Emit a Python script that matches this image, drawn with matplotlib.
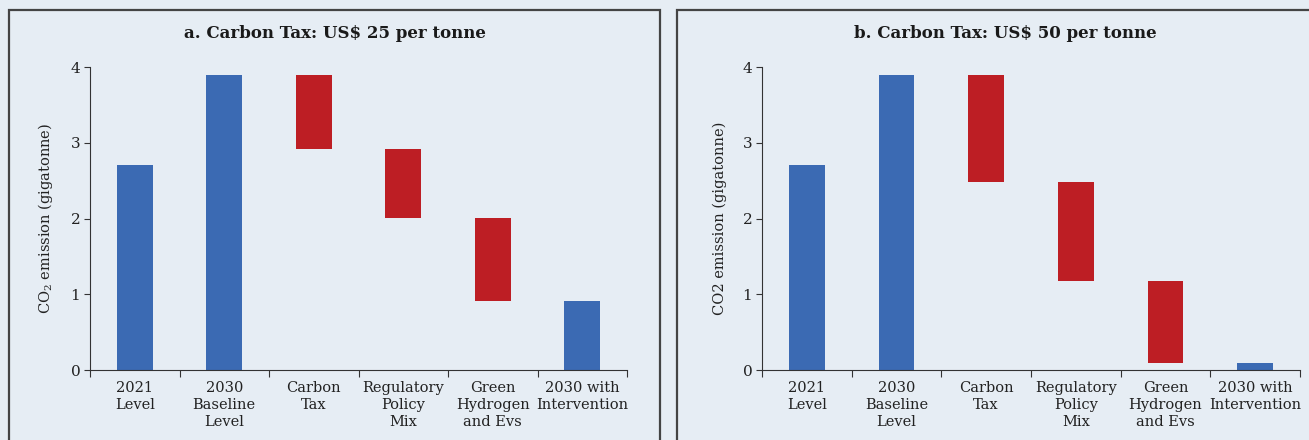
import numpy as np
import matplotlib.pyplot as plt
from matplotlib.patches import Rectangle

plt.rcParams['font.family'] = 'DejaVu Serif'
plt.rcParams['mathtext.default'] = 'regular'

# categories shown on the x axis
categories = ['2021\nLevel', '2030\nBaseline\nLevel', 'Carbon\nTax',
              'Regulatory\nPolicy\nMix', 'Green\nHydrogen\nand Evs',
              '2030 with\nIntervention']

# waterfall values (gigatonne): bar tops and bottoms
tops_a = [2.7, 3.9, 3.9, 2.92, 2.01, 0.91]
bottoms_a = [0, 0, 2.92, 2.01, 0.91, 0]
tops_b = [2.7, 3.9, 3.9, 2.48, 1.18, 0.09]
bottoms_b = [0, 0, 2.48, 1.18, 0.09, 0]
is_total = [True, True, False, False, False, True]

titles = ['a. Carbon Tax: US$ 25 per tonne', 'b. Carbon Tax: US$ 50 per tonne']
ylabels = ['CO$_2$ emission (gigatonne)', 'CO2 emission (gigatonne)']

bg = '#e6edf4'
blue = '#3b6ab3'
red = '#bd1e24'
ink = '#333333'

fig = plt.figure(figsize=(13.09, 4.4), dpi=100)
fig.patch.set_facecolor(bg)

W, H = 1309, 440
# panel boxes (pixels): left, right
boxes = [(9, 660), (677, 1320)]
title_x = [335, 1005]
axes_px = [(90, 627), (762, 1300)]

for k, (tops, bottoms) in enumerate([(tops_a, bottoms_a), (tops_b, bottoms_b)]):
    bl, br = boxes[k]
    fig.patches.append(Rectangle((bl / W, -0.1), (br - bl) / W, 1.1 - 10 / H,
                                 transform=fig.transFigure, facecolor='none',
                                 edgecolor='#444444', linewidth=1.6))
    fig.text(title_x[k] / W, 1 - 33 / H, titles[k], ha='center', va='center',
             fontsize=12, fontweight='bold', color='#1a1a1a')

    l, r = axes_px[k]
    ax = fig.add_axes([l / W, 1 - 370 / H, (r - l) / W, (370 - 67) / H])
    ax.set_facecolor(bg)
    x = np.arange(len(categories))
    heights = np.array(tops) - np.array(bottoms)
    colors = [blue if t else red for t in is_total]
    ax.bar(x, heights, bottom=bottoms, width=0.4, color=colors)

    ax.set_xlim(-0.5, len(categories) - 0.5)
    ax.set_ylim(0, 4)
    ax.set_yticks([0, 1, 2, 3, 4])
    ax.set_xticks(np.arange(len(categories) + 1) - 0.5)
    ax.set_xticklabels([])
    ax.set_xticks(x, minor=True)
    ax.set_xticklabels(categories, minor=True, fontsize=10.5, linespacing=1.25,
                       color='#222222')
    ax.tick_params(axis='x', which='minor', length=0, pad=8)
    ax.tick_params(axis='x', which='major', length=5, color=ink)
    ax.tick_params(axis='y', length=4, labelsize=11, pad=3, color=ink,
                   labelcolor='#222222')
    for s in ['top', 'right']:
        ax.spines[s].set_visible(False)
    for s in ['left', 'bottom']:
        ax.spines[s].set_color(ink)
    ax.set_ylabel(ylabels[k], fontsize=10.5, labelpad=11, color='#222222')

fig.savefig('out.png', dpi=100, facecolor=bg)
